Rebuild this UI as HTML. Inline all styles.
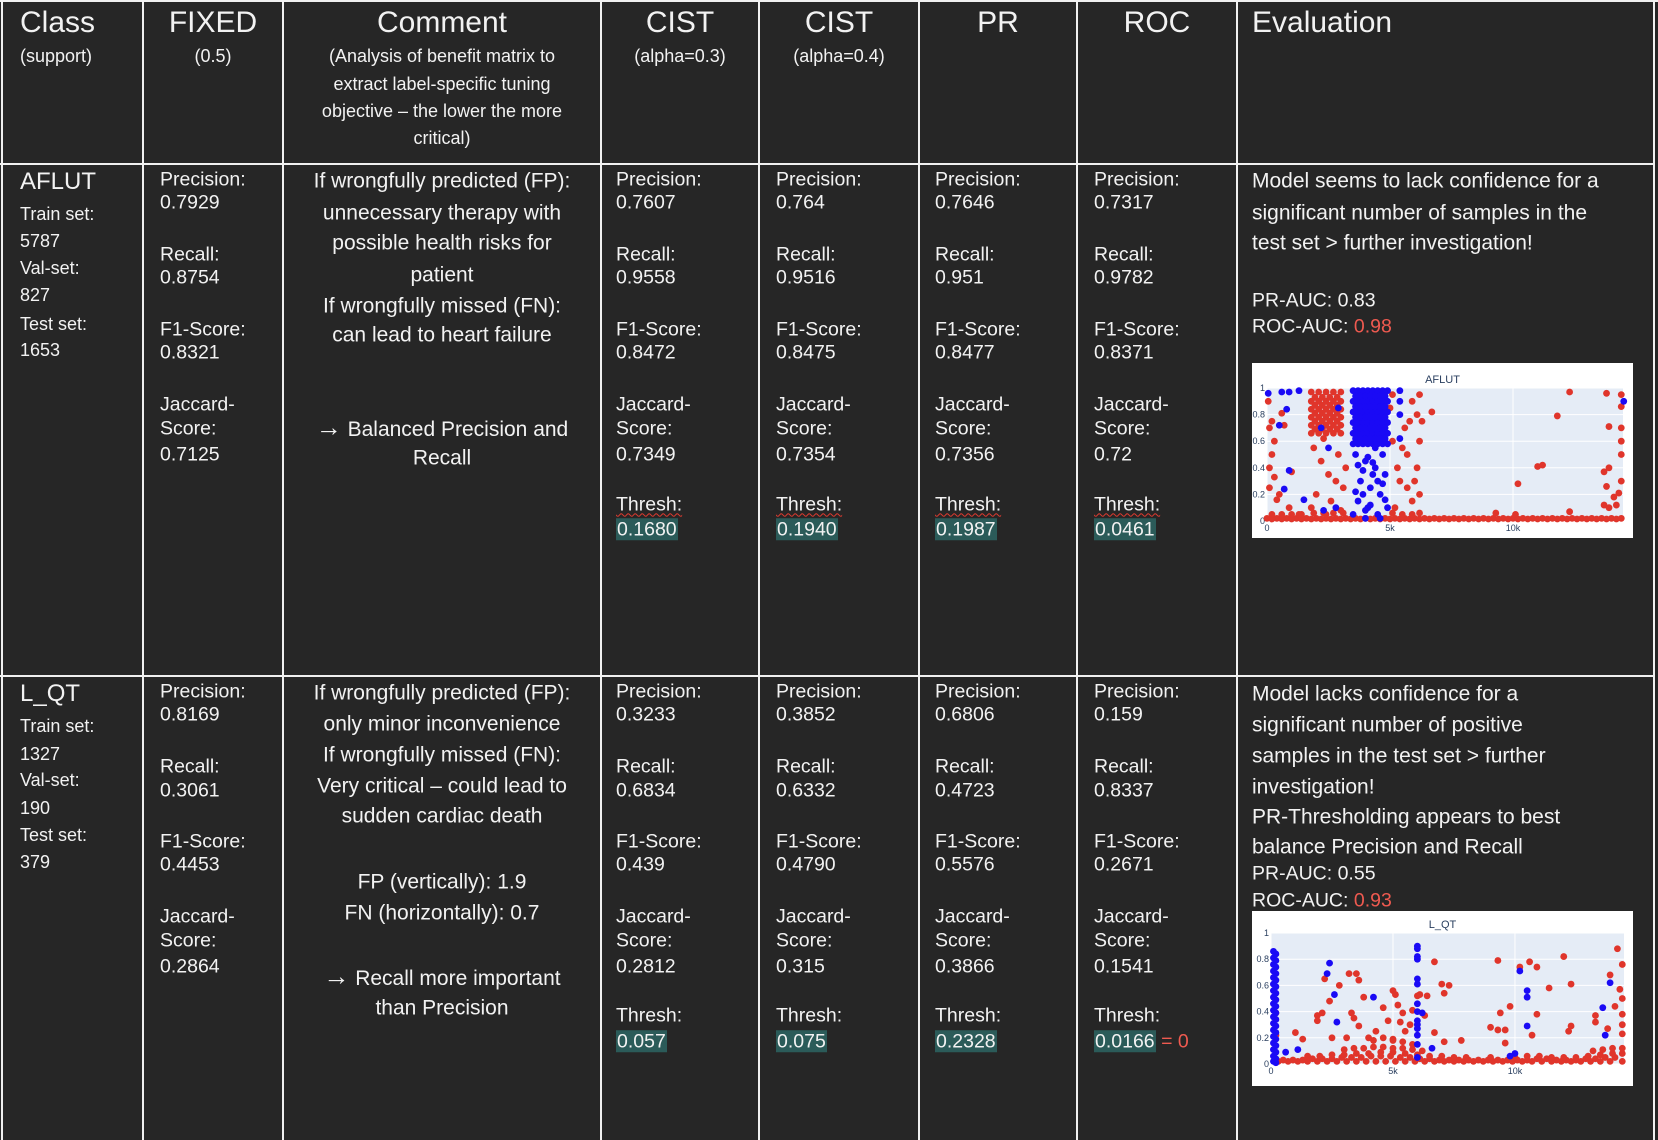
<!DOCTYPE html>
<html><head><meta charset="utf-8">
<style>
html,body{margin:0;padding:0;}
body{width:1658px;height:1140px;background:#262626;position:relative;overflow:hidden;font-family:"Liberation Sans",sans-serif;color:#f2f2f2;}
.ln{position:absolute;background:#f0f0f0;}
.t{position:absolute;white-space:nowrap;transform:translateY(-50%);line-height:1;}
.c{transform:translate(-50%,-50%);}
.hl{background:#2b5b59;padding:0 1px;}
.wv{text-decoration:underline wavy #e03a2f;text-decoration-thickness:1px;text-underline-offset:2px;}
.red{color:#ef5a50;}
.ar{font-size:26px;font-weight:bold;}
svg text{font-family:"Liberation Sans",sans-serif;}
</style></head>
<body>
<div id="grid"></div>
<div id="txt"></div>
<svg id="ch1" style="position:absolute;left:0;top:0" width="1658" height="1140"></svg>
<script>
// ---------- chart data (x in thousands of samples, y = predicted probability) ----------
const aflutRedX=[0,0.4,0.8,1.2,1.6,2,2.4,2.8,3.2,3.6,4,4.4,4.8,5.2,5.6,6,6.4,6.8,7.2,7.6,8,8.4,8.8,9.2,9.6,10,10.4,10.8,11.2,11.6,12,12.4,12.8,13.2,13.6,14,14.4,
0.2,0.6,1.0,1.4,1.8,2.2,2.6,3.0,3.4,3.8,4.2,4.6,5.0,5.4,5.8,6.2,6.6,7.0,7.4,7.8,8.2,8.6,9.0,9.4,9.8,10.2,10.6,11.0,11.4,11.8,12.2,12.6,13.0,13.4,13.8,14.2,
0.2,0.6,1.0,1.4,1.9,2.3,2.7,3.1,5.1,5.5,5.9,6.2,
1.8,2.1,2.4,2.7,3.0,1.8,2.1,2.4,2.7,3.0,1.8,2.1,2.4,2.7,3.0,1.8,2.1,2.4,2.7,3.0,1.8,2.1,2.4,2.7,3.0,1.8,2.1,2.4,2.7,3.0,
1.95,2.25,2.55,2.85,1.95,2.25,2.55,2.85,1.95,2.25,2.55,2.85,1.95,2.25,2.55,2.85,1.95,2.25,2.55,2.85,
1.9,2.2,2.5,2.8,2.0,2.6,3.1,2.3,2.9,3.2,1.8,2.4,3.0,
0.1,0.2,0.3,0.1,0.2,0.05,0.3,0.6,0.1,0.4,1.3,0.9,0.7,1.0,0.5,
5.1,5.0,5.1,5.3,5.4,5.6,5.7,5.8,5.9,6.1,6.2,6.1,6.0,6.2,5.9,5.5,6.3,5.2,6.2,5.7,
6.7,11.8,12.3,11.0,11.2,10.2,13.8,13.9,13.9,13.7,13.8,14.1,14.3,14.4,14.4,14.4,14.4,14.4,14.4,13.7,13.9,14.2,12.3,9.3,10.1];
const aflutRedY=[0.02,0.02,0.02,0.02,0.02,0.02,0.02,0.02,0.02,0.02,0.02,0.02,0.02,0.02,0.02,0.02,0.02,0.02,0.02,0.02,0.02,0.02,0.02,0.02,0.02,0.02,0.02,0.02,0.02,0.02,0.02,0.02,0.02,0.02,0.02,0.02,0.02,
0.015,0.015,0.015,0.015,0.015,0.015,0.015,0.015,0.015,0.015,0.015,0.015,0.015,0.015,0.015,0.015,0.015,0.015,0.015,0.015,0.015,0.015,0.015,0.015,0.015,0.015,0.015,0.015,0.015,0.015,0.015,0.015,0.015,0.015,0.015,0.015,
0.05,0.05,0.05,0.05,0.06,0.06,0.06,0.06,0.06,0.05,0.05,0.06,
0.97,0.97,0.97,0.97,0.97,0.9,0.9,0.9,0.9,0.9,0.84,0.84,0.84,0.84,0.84,0.78,0.78,0.78,0.78,0.78,0.72,0.72,0.72,0.72,0.72,0.66,0.66,0.66,0.66,0.66,
0.93,0.93,0.93,0.93,0.87,0.87,0.87,0.87,0.81,0.81,0.81,0.81,0.75,0.75,0.75,0.75,0.69,0.69,0.69,0.69,
0.55,0.45,0.35,0.3,0.2,0.15,0.25,0.62,0.5,0.4,0.1,0.05,0.08,
0.7,0.75,0.6,0.4,0.5,0.9,0.33,0.81,0.25,0.16,0.05,0.1,0.72,0.37,0.2,
0.95,0.85,0.6,0.4,0.3,0.7,0.5,0.75,0.9,0.8,0.6,0.4,0.3,0.2,0.15,0.55,0.75,0.1,0.95,0.25,
0.82,0.79,0.97,0.41,0.42,0.28,0.96,0.71,0.4,0.37,0.26,0.18,0.21,0.86,0.6,0.5,0.3,0.7,0.95,0.12,0.1,0.12,0.07,0.06,0.05];
const aflutBlueX=[3.5,3.7,3.9,4.1,4.3,4.5,4.7,4.9,3.5,3.7,3.9,4.1,4.3,4.5,4.7,4.9,3.5,3.7,3.9,4.1,4.3,4.5,4.7,4.9,3.5,3.7,3.9,4.1,4.3,4.5,4.7,4.9,3.5,3.7,3.9,4.1,4.3,4.5,4.7,4.9,3.5,3.7,3.9,4.1,4.3,4.5,4.7,4.9,
3.6,3.8,4.0,4.2,4.4,4.6,4.8,3.6,3.8,4.0,4.2,4.4,4.6,4.8,3.6,3.8,4.0,4.2,4.4,4.6,4.8,3.6,3.8,4.0,4.2,4.4,4.6,4.8,3.6,3.8,4.0,4.2,4.4,4.6,4.8,
3.6,4.0,4.4,4.8,3.8,4.2,4.6,3.7,4.1,4.5,4.9,3.5,4.3,4.7,3.9,4.0,4.6,
3.7,4.1,4.5,3.9,4.3,4.7,3.6,4.2,4.8,4.0,4.4,
0.05,0.6,0.9,1.3,0.5,0.8,0.9,0.7,5.4,5.4,5.4,5.4,14.5,2.2,2.5,2.9,1.5,2.3,2.8];
const aflutBlueY=[0.98,0.98,0.98,0.98,0.98,0.98,0.98,0.98,0.9,0.9,0.9,0.9,0.9,0.9,0.9,0.9,0.82,0.82,0.82,0.82,0.82,0.82,0.82,0.82,0.74,0.74,0.74,0.74,0.74,0.74,0.74,0.74,0.66,0.66,0.66,0.66,0.66,0.66,0.66,0.66,0.58,0.58,0.58,0.58,0.58,0.58,0.58,0.58,
0.94,0.94,0.94,0.94,0.94,0.94,0.94,0.86,0.86,0.86,0.86,0.86,0.86,0.86,0.78,0.78,0.78,0.78,0.78,0.78,0.78,0.7,0.7,0.7,0.7,0.7,0.7,0.7,0.62,0.62,0.62,0.62,0.62,0.62,0.62,
0.5,0.45,0.4,0.35,0.3,0.25,0.2,0.15,0.1,0.05,0.1,0.05,0.35,0.5,0.2,0.02,0.02,
0.42,0.48,0.3,0.38,0.44,0.28,0.22,0.12,0.16,0.08,0.55,
0.96,0.97,0.97,0.98,0.72,0.84,0.38,0.24,0.9,0.8,0.98,0.62,0.9,0.7,0.55,0.85,0.16,0.08,0.1];

const lqtRedX=[0.3,0.7,1.1,1.5,1.9,2.3,2.7,3.1,3.5,3.9,4.3,4.7,5.1,5.5,5.9,6.3,6.7,7.1,7.5,7.9,8.3,8.7,9.1,9.5,9.9,10.3,10.7,11.1,11.5,11.9,12.3,12.7,13.1,13.5,13.9,14.4,
0.5,0.9,1.3,1.7,2.1,2.5,2.9,3.3,3.7,4.1,4.5,4.9,5.3,5.7,6.1,6.5,6.9,7.3,7.7,8.1,8.5,8.9,9.3,9.7,10.1,10.5,10.9,11.3,11.7,12.1,12.5,12.9,13.3,13.7,14.1,
1.5,2.0,2.5,3.0,3.5,4.0,4.5,5.0,5.5,6.0,6.5,7.0,7.5,8.0,9.0,10.0,10.5,11.0,11.5,12.0,12.5,13.0,13.5,14.0,14.4,
3.0,3.4,3.8,4.2,4.6,5.0,5.4,5.8,6.2,13.2,13.6,14.0,14.4,4.2,4.6,5.0,5.4,5.8,
2.2,2.4,2.8,3.2,3.3,3.4,3.5,3.6,3.6,3.8,1.9,1.9,2.1,1.0,1.3,4.6,5.0,5.1,5.2,5.4,5.3,5.5,5.8,6.0,6.1,6.4,6.3,6.7,7.0,7.1,7.3,6.7,7.1,7.8,9.3,9.4,9.0,9.3,9.6,9.8,9.6,10.2,10.6,10.9,10.9,10.7,11.4,12.0,12.3,12.3,12.2,13.3,13.3,13.8,13.9,14.2,14.4,14.3,14.4,14.1,14.4,14.4,14.4,0.2,0.2,4.3,4.8,3.1,2.5,5.7,4.0,5.0];
const lqtRedY=[0.02,0.02,0.02,0.02,0.02,0.02,0.02,0.02,0.02,0.02,0.02,0.02,0.02,0.02,0.02,0.02,0.02,0.02,0.02,0.02,0.02,0.02,0.02,0.02,0.02,0.02,0.02,0.02,0.02,0.02,0.02,0.02,0.02,0.02,0.02,0.02,
0.03,0.03,0.03,0.04,0.04,0.04,0.05,0.05,0.05,0.06,0.06,0.06,0.05,0.05,0.04,0.04,0.03,0.03,0.03,0.03,0.03,0.03,0.03,0.03,0.03,0.03,0.04,0.04,0.03,0.03,0.03,0.04,0.04,0.05,0.05,
0.06,0.06,0.07,0.07,0.08,0.08,0.09,0.09,0.08,0.07,0.06,0.06,0.05,0.05,0.05,0.05,0.06,0.06,0.05,0.05,0.05,0.06,0.07,0.08,0.08,
0.11,0.12,0.12,0.13,0.13,0.12,0.12,0.11,0.1,0.1,0.11,0.12,0.12,0.18,0.2,0.19,0.17,0.15,
0.65,0.48,0.6,0.69,0.39,0.35,0.69,0.64,0.29,0.51,0.37,0.33,0.39,0.24,0.19,0.43,0.56,0.53,0.45,0.39,0.32,0.25,0.41,0.52,0.53,0.52,0.37,0.78,0.61,0.54,0.6,0.24,0.17,0.18,0.79,0.39,0.28,0.26,0.26,0.44,0.16,0.74,0.78,0.74,0.38,0.22,0.58,0.82,0.61,0.29,0.25,0.37,0.32,0.27,0.68,0.88,0.76,0.57,0.5,0.44,0.38,0.3,0.23,0.39,0.22,0.25,0.33,0.2,0.2,0.3,0.2,0.18];
const lqtBlueX=[0.1,0.1,0.1,0.1,0.1,0.1,0.1,0.1,0.1,0.1,0.1,0.1,0.1,0.1,0.1,0.1,0.1,0.1,0.2,0.2,0.2,0.2,0.2,0.2,0.2,0.2,0.2,0.2,0.2,0.2,0.2,0.2,0.2,0.2,0.2,0.2,
6.0,6.0,6.0,6.0,6.0,6.0,6.0,6.0,6.0,6.0,6.0,6.0,6.0,6.0,
2.3,2.4,2.6,2.7,4.2,6.2,6.6,10.2,10.5,10.5,10.5,13.6,13.7,13.9,1.1,0.6,9.8,10.0];
const lqtBlueY=[0.86,0.81,0.76,0.71,0.66,0.61,0.56,0.51,0.46,0.41,0.36,0.31,0.26,0.21,0.16,0.11,0.06,0.02,0.84,0.79,0.74,0.69,0.64,0.59,0.54,0.49,0.44,0.39,0.34,0.29,0.24,0.19,0.14,0.09,0.04,0.01,
0.9,0.88,0.82,0.8,0.65,0.61,0.46,0.4,0.33,0.3,0.27,0.22,0.15,0.05,
0.69,0.77,0.53,0.32,0.51,0.39,0.12,0.71,0.51,0.56,0.29,0.43,0.22,0.62,0.11,0.09,0.06,0.08];
const xTicks=[0,5,10];
const xTickLabels=["0","5k","10k"];
const yTicks=[0,0.2,0.4,0.6,0.8,1];
const yTickLabels=["0","0.2","0.4","0.6","0.8","1"];

// ---------- table ----------
const grid=document.getElementById('grid');
function line(x,y,w,h,name){
  const d=document.createElement('div');
  d.className='ln';
  d.style.cssText=`left:${x}px;top:${y}px;width:${w}px;height:${h}px`;
  
  
  grid.appendChild(d);
}
const colX=[1,142,282,600,758,918,1076,1236,1653];
colX.forEach((x,i)=>line(x,0,2,1140,'column-border-'+i));
line(0,0,1658,2,'table-top-border');
line(0,163,1655,2,'header-row-border');
line(0,675,1655,2,'row-border');

const txt=document.getElementById('txt');
function T(html,x,y,size,name,center){
  const d=document.createElement('div');
  d.className='t'+(center?' c':'');
  d.style.left=x+'px';d.style.top=y+'px';d.style.fontSize=size+'px';
  d.innerHTML=html;
  
  
  txt.appendChild(d);
}
// header
T('Class',20,23,30,'header-class');
T('(support)',20,56,18,'header-class-sub');
T('FIXED',213,23,30,'header-fixed',1);
T('(0.5)',213,56,18,'header-fixed-sub',1);
T('Comment',442,23,30,'header-comment',1);
['(Analysis of benefit matrix to','extract label-specific tuning','objective – the lower the more','critical)'].forEach((s,i)=>T(s,442,[56,83.5,111,137.5][i],18,'header-comment-sub',1));
T('CIST',680,23,30,'header-cist-03',1);
T('(alpha=0.3)',680,56,18,'header-cist-03-sub',1);
T('CIST',839,23,30,'header-cist-04',1);
T('(alpha=0.4)',839,56,18,'header-cist-04-sub',1);
T('PR',998,23,30,'header-pr',1);
T('ROC',1157,23,30,'header-roc',1);
T('Evaluation',1252,23,30,'header-evaluation');

// class column
T('AFLUT',20,182,24,'class-aflut');
['Train set:','5787','Val-set:','827','Test set:','1653'].forEach((s,i)=>T(s,20,[213.6,241,267.5,295,323.5,350][i],18,'class-aflut-support'));
T('L_QT',20,693.6,24,'class-lqt');
['Train set:','1327','Val-set:','190','Test set:','379'].forEach((s,i)=>T(s,20,[726,754,780,808,835,862][i],18,'class-lqt-support'));

// metric columns
const metricX=[160,616,776,935,1094];
const metricNames=['fixed','cist-03','cist-04','pr','roc'];
const r1=[['0.7929','0.8754','0.8321','0.7125',null],['0.7607','0.9558','0.8472','0.7349','0.1680'],['0.764','0.9516','0.8475','0.7354','0.1940'],['0.7646','0.951','0.8477','0.7356','0.1987'],['0.7317','0.9782','0.8371','0.72','0.0461']];
const r2=[['0.8169','0.3061','0.4453','0.2864',null],['0.3233','0.6834','0.439','0.2812','0.057'],['0.3852','0.6332','0.4790','0.315','0.075'],['0.6806','0.4723','0.5576','0.3866','0.2328'],['0.159','0.8337','0.2671','0.1541','0.0166']];
function metrics(vals,ys,x,nm,row,wavy){
  T('Precision:',x,ys[0],19.5,nm+'-precision-label');
  T(vals[0],x,ys[1],19.5,nm+'-precision');
  T('Recall:',x,ys[2],19.5,nm+'-recall-label');
  T(vals[1],x,ys[3],19.5,nm+'-recall');
  T('F1-Score:',x,ys[4],19.5,nm+'-f1-label');
  T(vals[2],x,ys[5],19.5,nm+'-f1');
  T('Jaccard-',x,ys[6],19.5,nm+'-jaccard-label');
  T('Score:',x,ys[7],19.5,nm+'-jaccard-label2');
  T(vals[3],x,ys[8],19.5,nm+'-jaccard');
  if(vals[4]){
    T(wavy?'<span class="wv">Thresh:</span>':'Thresh:',x,ys[9],19.5,nm+'-thresh-label');
    T('<span class="hl">'+vals[4]+'</span>'+(row==2&&nm.indexOf('roc')>=0?' <span class="red">= 0</span>':''),x,ys[10],19.5,nm+'-thresh');
  }
}
const y1=[180,203,255,278,330,353,405,429,455,505,530];
const y2=[691.5,715,766.6,791,842,865,917,941,966.5,1016,1041.5];
for(let i=0;i<5;i++){
  metrics(r1[i],y1,metricX[i],'aflut-'+metricNames[i],1,true);
  metrics(r2[i],y2,metricX[i],'lqt-'+metricNames[i],2,false);
}

// comments
['If wrongfully predicted (FP):','unnecessary therapy with','possible health risks for','patient','If wrongfully missed (FN):','can lead to heart failure','<span class="ar">→</span> Balanced Precision and','Recall'].forEach((s,i)=>T(s,442,[181,212.5,243,275,305.6,335,427,458][i],21,'aflut-comment',1));
['If wrongfully predicted (FP):','only minor inconvenience','If wrongfully missed (FN):','Very critical – could lead to','sudden cardiac death','FP (vertically): 1.9','FN (horizontally): 0.7','<span class="ar">→</span> Recall more important','than Precision'].forEach((s,i)=>T(s,442,[692.6,724,755,785.6,816,882,912.5,976,1007.6][i],21,'lqt-comment',1));

// evaluation
['Model seems to lack confidence for a','significant number of samples in the','test set &gt; further investigation!'].forEach((s,i)=>T(s,1252,[181,212.5,243][i],21,'aflut-evaluation'));
T('PR-AUC: 0.83',1252,301,19.5,'aflut-pr-auc');
T('ROC-AUC: <span class="red">0.98</span>',1252,327,19.5,'aflut-roc-auc');
['Model lacks confidence for a','significant number of positive','samples in the test set &gt; further','investigation!','PR-Thresholding appears to best','balance Precision and Recall'].forEach((s,i)=>T(s,1252,[694,725,756,787,817,847][i],21,'lqt-evaluation'));
T('PR-AUC: 0.55',1252,874,19.5,'lqt-pr-auc');
T('ROC-AUC: <span class="red">0.93</span>',1252,901,19.5,'lqt-roc-auc');

// ---------- charts ----------
const NS='http://www.w3.org/2000/svg';
const svg=document.getElementById('ch1');
function S(tag,attrs,parent){const e=document.createElementNS(NS,tag);for(const k in attrs)e.setAttribute(k,attrs[k]);(parent||svg).appendChild(e);return e;}
function chart(cfg,title,redX,redY,blueX,blueY,nm){
  const g=S('g',{});
  
  
  const bx=S('rect',{x:cfg.bx0,y:cfg.by0,width:cfg.bx1-cfg.bx0,height:cfg.by1-cfg.by0,fill:'#ffffff'},g);
  
  const xs=v=>cfg.x0+(v/cfg.xmax)*(cfg.x1-cfg.x0);
  const ys=v=>cfg.y0-v*(cfg.y0-cfg.y1);
  const pa=S('rect',{x:cfg.x0,y:cfg.y1,width:cfg.x1-cfg.x0,height:cfg.y0-cfg.y1,fill:'#e5ecf6'},g);
  
  yTicks.forEach((t,i)=>{
    const gl=S('line',{x1:cfg.x0,x2:cfg.x1,y1:ys(t),y2:ys(t),stroke:'#fff','stroke-width':1},g);
    
    const lb=S('text',{x:cfg.x0-2,y:ys(t)+3,'font-size':9,fill:'#2a3f5f','text-anchor':'end'},g);
    
    lb.textContent=yTickLabels[i];
  });
  xTicks.forEach((t,i)=>{
    const gl=S('line',{x1:xs(t),x2:xs(t),y1:cfg.y1,y2:cfg.y0,stroke:'#fff','stroke-width':1},g);
    
    const lb=S('text',{x:xs(t),y:cfg.y0+10,'font-size':9,fill:'#2a3f5f','text-anchor':'middle'},g);
    
    lb.textContent=xTickLabels[i];
  });
  const tt=S('text',{x:(cfg.bx0+cfg.bx1)/2,y:cfg.y1-5,'font-size':11,fill:'#2a3f5f','text-anchor':'middle'},g);
  
  tt.textContent=title;
  redX.forEach((v,i)=>{
    const c=S('circle',{cx:xs(v),cy:ys(redY[i]),r:3.4,fill:'#e0352b'},g);
    
    
  });
  blueX.forEach((v,i)=>{
    const c=S('circle',{cx:xs(v),cy:ys(blueY[i]),r:3.4,fill:'#1a0af5'},g);
    
    
  });
}
chart({bx0:1252,bx1:1633,by0:363,by1:538,x0:1267,x1:1623,y0:521,y1:388,xmax:14.47},'AFLUT',aflutRedX,aflutRedY,aflutBlueX,aflutBlueY,'aflut-scatter');
chart({bx0:1252,bx1:1633,by0:911,by1:1086,x0:1271,x1:1624,y0:1064,y1:933,xmax:14.47},'L_QT',lqtRedX,lqtRedY,lqtBlueX,lqtBlueY,'lqt-scatter');
</script>
</body></html>
